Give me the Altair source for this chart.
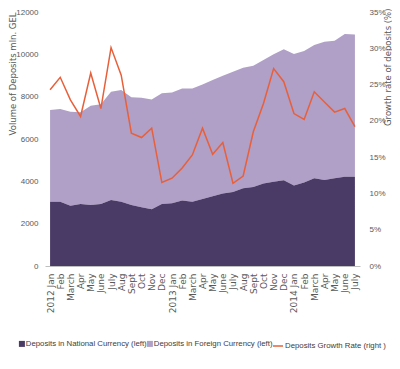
import altair as alt
import pandas as pd

months = ["2012 Jan", "Feb", "March", "Apr", "May", "June", "July", "Aug", "Sept", "Oct", "Nov", "Dec",
          "2013 Jan", "Feb", "March", "Apr", "May", "June", "July", "Aug", "Sept", "Oct", "Nov", "Dec",
          "2014 Jan", "Feb", "March", "Apr", "May", "June", "July"]

# Deposits in national currency (bottom layer), mln GEL
national = [3040, 3040, 2850, 2930, 2880, 2930, 3120, 3040, 2880, 2770, 2680, 2930,
            2960, 3090, 3040, 3170, 3300, 3430, 3500, 3670, 3730, 3900, 3980, 4050,
            3800, 3940, 4140, 4060, 4140, 4220, 4220]

# Total deposits (national + foreign), mln GEL
total = [7370, 7420, 7290, 7260, 7570, 7640, 8230, 8310, 7970, 7950, 7870, 8160,
         8200, 8390, 8390, 8580, 8790, 8990, 9180, 9370, 9460, 9730, 10000, 10240,
         10010, 10160, 10440, 10600, 10640, 10960, 10940]

# Deposits growth rate, %
growth = [24.3, 26.0, 22.9, 20.6, 26.6, 21.7, 30.1, 26.3, 18.3, 17.7, 19.0, 11.5,
          12.1, 13.5, 15.3, 19.0, 15.4, 17.0, 11.4, 12.4, 18.5, 22.4, 27.2, 25.4,
          21.0, 20.2, 24.0, 22.6, 21.2, 21.7, 19.2]

S_NAT = "Deposits in National Currency (left)"
S_FOR = "Deposits in Foreign Currency  (left)"
S_GR = "Deposits Growth Rate (right )"

idx = list(range(len(months)))
df = pd.DataFrame({"idx": idx, "national": national, "total": total, "growth": growth,
                   "s_nat": S_NAT, "s_for": S_FOR, "s_gr": S_GR})

label_js = "[" + ",".join("'" + m + "'" for m in months) + "][datum.value]"

FONT = "Liberation Sans"
TITLE_FONT = "DejaVu Sans"
GRAY = "#595959"

xscale = alt.Scale(type="point", padding=0.5)
xaxis = alt.Axis(title=None, labelExpr=label_js, labelAngle=270, labelFontSize=9,
                 labelFont=TITLE_FONT, labelColor=GRAY, ticks=False, labelPadding=7,
                 domainColor="#bfbfbf", domainWidth=1, labelOverlap=False)
x = alt.X("idx:O", scale=xscale, axis=xaxis)

yscale = alt.Scale(domain=[0, 12000])
yaxis = alt.Axis(title="Volume of Deposits  mln. GEL", values=list(range(0, 12001, 2000)),
                 format="d", grid=False, domain=False, ticks=False, labelPadding=7,
                 labelFontSize=8, labelFont=FONT, labelColor=GRAY,
                 titleFont=TITLE_FONT, titleFontSize=8.5, titleFontWeight="normal",
                 titleColor=GRAY, titleAngle=270, titleAlign="right", titleBaseline="middle",
                 titleX=-32.5, titleY=0)


def leg(lx, sym, size, offset=0):
    return alt.Legend(title=None, orient="none", legendX=lx, legendY=328,
                      direction="horizontal", symbolType=sym, symbolSize=size,
                      labelFont=FONT, labelFontSize=7.8, labelColor="#404040",
                      labelOffset=offset, symbolStrokeWidth=1.5 if sym == "stroke" else 0)


nat = alt.Chart(df).mark_area(opacity=1).encode(
    x=x,
    y=alt.Y("national:Q", scale=yscale, axis=yaxis),
    fill=alt.Fill("s_nat:N", scale=alt.Scale(domain=[S_NAT], range=["#4a3a66"]),
                  legend=leg(-27, "square", 36)),
)

forg = alt.Chart(df).mark_area(opacity=1).encode(
    x=x,
    y=alt.Y("total:Q", scale=yscale, axis=yaxis),
    y2="national:Q",
    color=alt.Color("s_for:N", scale=alt.Scale(domain=[S_FOR], range=["#b09fc7"]),
                    legend=leg(101, "square", 36)),
)

line = alt.Chart(df).mark_line(strokeWidth=1.5).encode(
    x=x,
    y=alt.Y("growth:Q", scale=alt.Scale(domain=[0, 35]),
            axis=alt.Axis(orient="right", title="Growth rate of deposits (%)",
                          values=list(range(0, 36, 5)), labelExpr="datum.value + '%'",
                          grid=False, domain=False, ticks=False, labelPadding=9,
                          labelFontSize=8, labelFont=FONT, labelColor=GRAY,
                          titleFont=TITLE_FONT, titleFontSize=8.5, titleFontWeight="normal",
                          titleColor=GRAY, titleAngle=270, titleAlign="right",
                          titleBaseline="middle", titleX=27, titleY=-4)),
    stroke=alt.Stroke("s_gr:N", scale=alt.Scale(domain=[S_GR], range=["#e8603a"]),
                      legend=leg(227, "stroke", 100, 1)),
)

chart = alt.layer(alt.layer(forg, nat), line).resolve_scale(y="independent").properties(
    width=315, height=254,
    autosize=alt.AutoSizeParams(type="none"),
    padding={"left": 37, "top": 4, "right": 32, "bottom": 95},
).configure_view(stroke=None)

chart.save("out.html", embed_options={"renderer": "svg", "actions": False})
